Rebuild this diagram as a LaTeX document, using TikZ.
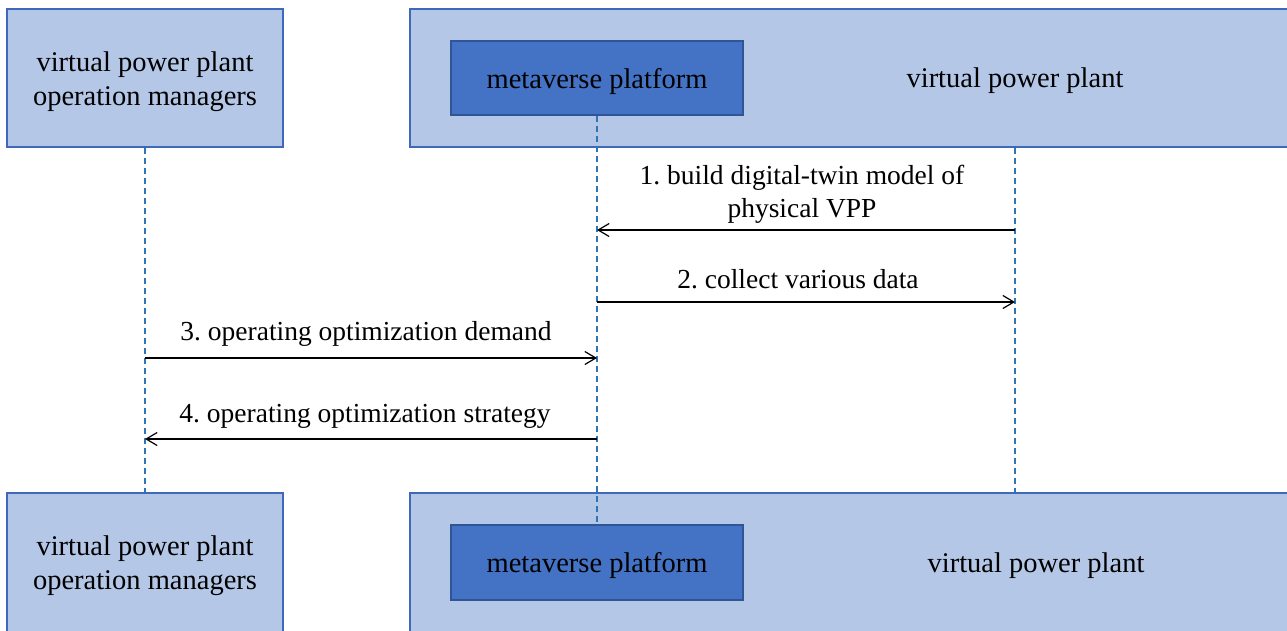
\documentclass[tikz,border=0pt]{standalone}
\usepackage{fontspec}
\setmainfont{Liberation Serif}
\usetikzlibrary{arrows.meta,positioning}
\definecolor{lightfill}{HTML}{B4C7E7}
\definecolor{boxline}{HTML}{3F68B8}
\definecolor{darkfill}{HTML}{4472C4}
\definecolor{darkline}{HTML}{2F5597}
\definecolor{lifeline}{HTML}{2E75B6}
\begin{document}
\frenchspacing
\begin{tikzpicture}[x=1pt,y=-1pt,
  lightbox/.style={draw=boxline,fill=lightfill,line width=1.5pt,inner sep=0pt},
  darkbox/.style={draw=darkline,fill=darkfill,line width=1.2pt,inner sep=0pt},
  txt/.style={font=\fontsize{28.5}{34}\selectfont,align=center,text=black,inner sep=0pt},
  life/.style={draw=lifeline,line width=1.2pt,dash pattern=on 6pt off 4pt},
  msg/.style={draw=black,line width=1.2pt,-{Straight Barb[length=11pt,width=13pt,line width=1.2pt]}},
  lbl/.style={font=\fontsize{27.5}{33}\selectfont,align=center,text=black,inner sep=0pt}]
\useasboundingbox (0,0) rectangle (1287,630);
% top row
\node[lightbox,minimum width=276pt,minimum height=138pt] (mgrTop) at (145,78) {};
\node[txt] (mgrTopTxt) at (145,82) {virtual power plant\\operation managers};
\node[lightbox,minimum width=900pt,minimum height=138pt] (vppTop) at (860,78) {};
\node[darkbox,minimum width=292pt,minimum height=74pt] (metaTop) at (597,78) {};
\node[txt] (metaTopTxt) at (597,81) {metaverse platform};
\node[txt] (vppTopTxt) at (1015,81) {virtual power plant};
% bottom row
\node[lightbox,minimum width=276pt,minimum height=160pt] (mgrBot) at (145,573) {};
\node[txt] (mgrBotTxt) at (145,566) {virtual power plant\\operation managers};
\node[lightbox,minimum width=900pt,minimum height=160pt] (vppBot) at (860,573) {};
\node[darkbox,minimum width=292pt,minimum height=75pt] (metaBot) at (597,562.5) {};
\node[txt] (metaBotTxt) at (597,565) {metaverse platform};
\node[txt] (vppBotTxt) at (1036,566) {virtual power plant};
% lifelines
\draw[life] (mgrTop.south) -- (mgrBot.north);
\draw[life] (metaTop.south) -- (metaBot.north);
\draw[life] (vppTopTxt |- vppTop.south) -- (vppTopTxt |- vppBot.north);
% message anchors
\coordinate (v1) at (1015,230); \coordinate (m1) at (597,230);
\coordinate (m2) at (597,302); \coordinate (v2) at (1015,302);
\coordinate (g3) at (145,358); \coordinate (m3) at (597,358);
\coordinate (m4) at (597,439); \coordinate (g4) at (145,439);
\draw[msg] (v1) -- (m1);
\draw[msg] (m2) -- (v2);
\draw[msg] (g3) -- (m3);
\draw[msg] (m4) -- (g4);
\node[lbl] (l1) at (802,194) {1. build digital-twin model of\\physical VPP};
\node[lbl] (l2) at (798,279) {2. collect various data};
\node[lbl] (l3) at (366,334) {3. operating optimization demand};
\node[lbl] (l4) at (365,416) {4. operating optimization strategy};
\end{tikzpicture}
\end{document}
